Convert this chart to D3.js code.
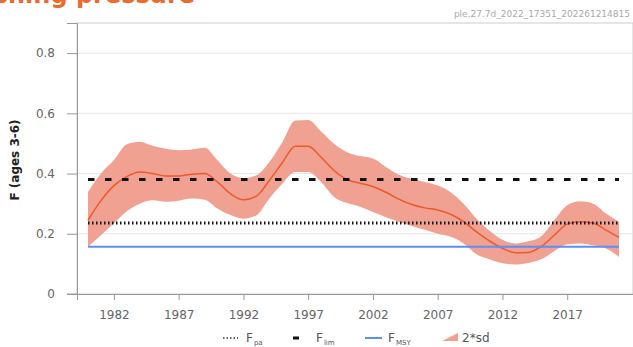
<!DOCTYPE html>
<html>
<head>
<meta charset="utf-8">
<script src="https://cdn.jsdelivr.net/npm/d3@7"></script>
<style>
  html, body { margin: 0; padding: 0; background: #fff; }
  svg { display: block; font-family: "DejaVu Sans", sans-serif; }
</style>
</head>
<body>
<svg id="chart" width="633" height="347"></svg>
<script>
// ---- data ----
const years = d3.range(1980, 2022);
const fValues = [0.245, 0.31, 0.36, 0.39, 0.405, 0.400, 0.392, 0.392, 0.398, 0.400,
  0.372, 0.333, 0.313, 0.325, 0.377, 0.436, 0.491, 0.491, 0.454, 0.41,
  0.38, 0.368, 0.357, 0.338, 0.315, 0.297, 0.286, 0.279, 0.265, 0.24,
  0.206, 0.176, 0.152, 0.137, 0.138, 0.158, 0.195, 0.232, 0.24, 0.236,
  0.212, 0.188];
const fUpper = [0.339, 0.40, 0.445, 0.497, 0.506, 0.492, 0.482, 0.477, 0.480, 0.486,
  0.444, 0.400, 0.385, 0.394, 0.438, 0.504, 0.576, 0.578, 0.540, 0.499,
  0.471, 0.458, 0.450, 0.422, 0.396, 0.382, 0.372, 0.360, 0.338, 0.300,
  0.250, 0.210, 0.180, 0.168, 0.175, 0.192, 0.245, 0.295, 0.308, 0.300,
  0.267, 0.239];
const fLower = [0.157, 0.195, 0.235, 0.275, 0.300, 0.311, 0.306, 0.310, 0.317, 0.313,
  0.284, 0.262, 0.250, 0.261, 0.317, 0.366, 0.405, 0.405, 0.372, 0.322,
  0.302, 0.290, 0.272, 0.255, 0.240, 0.226, 0.213, 0.200, 0.190, 0.168,
  0.132, 0.115, 0.102, 0.098, 0.103, 0.115, 0.142, 0.165, 0.168, 0.162,
  0.151, 0.123];
const refPoints = { Fpa: 0.236, Flim: 0.38, Fmsy: 0.157 };
const xTicks = [1982, 1987, 1992, 1997, 2002, 2007, 2012, 2017];
const yTicks = [0, 0.2, 0.4, 0.6, 0.8];

// ---- layout ----
const plotL = 77, plotR = 633, plotT = 23, plotB = 294;
const svg = d3.select("#chart");

const x = d3.scaleLinear().domain([1979.15, 2022.08]).range([plotL, plotR]);
const y = d3.scaleLinear().domain([0, 0.9]).range([plotB, plotT]);

const rows = years.map((yr, i) => ({ yr, f: fValues[i], lo: fLower[i], hi: fUpper[i] }));

// title (cut off at the top, as in the original)
svg.append("text")
  .attr("x", 195).attr("y", 3)
  .attr("text-anchor", "end")
  .attr("font-size", "24px").attr("font-weight", "bold")
  .attr("fill", "#ee6a2c")
  .text("Fishing pressure");

svg.append("text")
  .attr("x", 630).attr("y", 17)
  .attr("text-anchor", "end")
  .attr("font-size", "9px").attr("fill", "#aaa")
  .text("ple.27.7d_2022_17351_202261214815");

// frame + grid
svg.append("rect")
  .attr("x", plotL).attr("y", plotT)
  .attr("width", plotR - plotL).attr("height", plotB - plotT)
  .attr("fill", "none").attr("stroke", "#ccc");

svg.append("g").selectAll("line")
  .data(yTicks.filter(d => d > 0))
  .join("line")
  .attr("x1", plotL).attr("x2", plotR)
  .attr("y1", d => y(d)).attr("y2", d => y(d))
  .attr("stroke", "#e6e6e6");

// axes
const yAxis = svg.append("g")
  .attr("transform", `translate(${plotL},0)`)
  .call(d3.axisLeft(y).tickValues(yTicks).tickSize(10).tickPadding(12)
    .tickFormat(d => d === 0 ? "0" : d3.format(".1f")(d)));
const xAxis = svg.append("g")
  .attr("transform", `translate(0,${plotB})`)
  .call(d3.axisBottom(x).tickValues(xTicks).tickSize(6).tickPadding(10).tickFormat(d3.format("d")));

[yAxis, xAxis].forEach(a => {
  a.select(".domain").attr("stroke", "#999");
  a.selectAll(".tick line").attr("stroke", "#999");
  a.selectAll("text").attr("fill", "#666").attr("font-size", "12px")
    .attr("font-family", "DejaVu Sans, sans-serif");
});
// x axis line runs a bit left of the y axis
svg.append("line")
  .attr("x1", plotL - 10).attr("x2", plotL)
  .attr("y1", plotB).attr("y2", plotB)
  .attr("stroke", "#999");

svg.append("text")
  .attr("transform", `translate(19,160) rotate(-90)`)
  .attr("text-anchor", "middle")
  .attr("font-size", "12px").attr("font-weight", "bold").attr("fill", "#222")
  .text("F (ages 3-6)");

// band + line
svg.append("path")
  .datum(rows)
  .attr("fill", "#f1a192")
  .attr("d", d3.area().x(d => x(d.yr)).y0(d => y(d.lo)).y1(d => y(d.hi)).curve(d3.curveMonotoneX));

svg.append("path")
  .datum(rows)
  .attr("fill", "none")
  .attr("stroke", "#ec5a2a").attr("stroke-width", 1.5)
  .attr("d", d3.line().x(d => x(d.yr)).y(d => y(d.f)).curve(d3.curveMonotoneX));

// reference points
const x0 = x(years[0]), x1 = x(years[years.length - 1]);
svg.append("line")
  .attr("x1", x0).attr("x2", x1)
  .attr("y1", y(refPoints.Fmsy)).attr("y2", y(refPoints.Fmsy))
  .attr("stroke", "#5b8ff5").attr("stroke-width", 2);
svg.append("line")
  .attr("x1", x0).attr("x2", x1)
  .attr("y1", y(refPoints.Fpa)).attr("y2", y(refPoints.Fpa))
  .attr("stroke", "#111").attr("stroke-width", 3).attr("stroke-dasharray", "1.5,2.5");
svg.append("line")
  .attr("x1", x0).attr("x2", x1)
  .attr("y1", y(refPoints.Flim)).attr("y2", y(refPoints.Flim))
  .attr("stroke", "#111").attr("stroke-width", 3).attr("stroke-dasharray", "6.5,10.5");

// legend
const lg = svg.append("g").attr("font-size", "12px").attr("fill", "#555");
const ly = 338;
lg.append("line").attr("x1", 223).attr("x2", 238).attr("y1", ly).attr("y2", ly)
  .attr("stroke", "#666").attr("stroke-width", 2).attr("stroke-dasharray", "1.5,2");
lg.append("line").attr("x1", 293).attr("x2", 299).attr("y1", ly).attr("y2", ly)
  .attr("stroke", "#111").attr("stroke-width", 3);
lg.append("line").attr("x1", 365).attr("x2", 382).attr("y1", ly).attr("y2", ly)
  .attr("stroke", "#5b8ff5").attr("stroke-width", 2);
lg.append("path").attr("d", `M442,${ly + 3}L458,${ly + 3}L458,${ly - 5}Z`)
  .attr("fill", "#f1a192");

const legendItems = [
  { x: 246, main: "F", sub: "pa" },
  { x: 316, main: "F", sub: "lim" },
  { x: 388, main: "F", sub: "MSY" }
];
legendItems.forEach(d => {
  const t = lg.append("text").attr("x", d.x).attr("y", ly + 4);
  t.append("tspan").text(d.main);
  t.append("tspan").attr("dy", 3).attr("font-size", "7px").attr("dx", 1).text(d.sub);
});
lg.append("text").attr("x", 462).attr("y", ly + 4).text("2*sd");
</script>
</body>
</html>
